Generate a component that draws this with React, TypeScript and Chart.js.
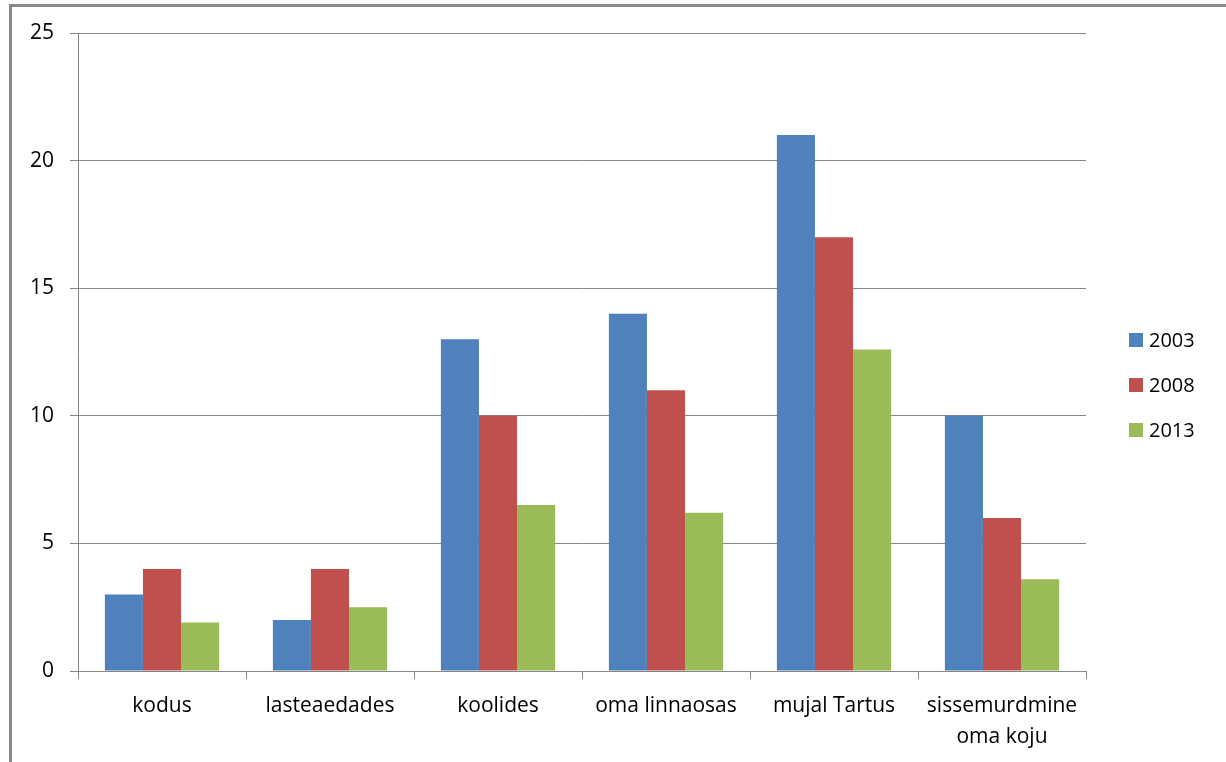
import React, { useEffect, useRef } from "react";
import { Chart, registerables } from "chart.js";

Chart.register(...registerables);

const categories: (string | string[])[] = [
  "kodus",
  "lasteaedades",
  "koolides",
  "oma linnaosas",
  "mujal Tartus",
  ["sissemurdmine", "oma koju"],
];
const series2003 = [3, 2, 13, 14, 21, 10];
const series2008 = [4, 4, 10, 11, 17, 6];
const series2013 = [1.9, 2.5, 6.5, 6.2, 12.6, 3.6];
const seriesLabels = ["2003", "2008", "2013"];
const seriesColors = ["#4F81BD", "#C0504D", "#9BBB59"];
const yMin = 0;
const yMax = 25;
const yStep = 5;

const FONT = "'Open Sans', 'Liberation Sans', sans-serif";
const GRID = "#868686";

const legendPlugin = {
  id: "sideLegend",
  afterDraw(chart: any) {
    const ctx = chart.ctx;
    const area = chart.chartArea;
    const ds = chart.data.datasets;
    const spacing = 45;
    const x = area.right + 43;
    const startY = 340;
    ctx.save();
    ctx.font = `20px ${FONT}`;
    ctx.textBaseline = "middle";
    ctx.textAlign = "left";
    ds.forEach((d: any, i: number) => {
      const cy = startY + i * spacing;
      ctx.fillStyle = d.backgroundColor;
      ctx.fillRect(x, cy - 7, 14, 14);
      ctx.fillStyle = "#000";
      ctx.fillText(d.label, x + 20, cy + 1);
    });
    ctx.restore();
  },
};

export default function App() {
  const ref = useRef<HTMLCanvasElement | null>(null);
  useEffect(() => {
    if (!ref.current) return;
    const values = [series2003, series2008, series2013];
    const chart = new Chart(ref.current, {
      type: "bar",
      data: {
        labels: categories,
        datasets: values.map((v, i) => ({
          label: seriesLabels[i],
          data: v,
          backgroundColor: seriesColors[i],
          borderWidth: 0,
          barPercentage: 1,
          categoryPercentage: 0.68,
        })),
      },
      options: {
        animation: false,
        responsive: true,
        maintainAspectRatio: false,
        layout: { padding: { top: 33, right: 140, left: 0, bottom: 0 } },
        plugins: {
          legend: { display: false },
          tooltip: { enabled: false },
        },
        scales: {
          x: {
            grid: {
              display: true,
              drawOnChartArea: false,
              drawTicks: true,
              tickLength: 8,
              color: GRID,
              offset: true,
            },
            border: { display: true, color: GRID, width: 1 },
            ticks: {
              color: "#000",
              font: { family: FONT, size: 21, lineHeight: 1.45 },
              padding: 12,
              maxRotation: 0,
              autoSkip: false,
            },
            afterFit(scale: any) {
              scale.height = 91;
            },
          },
          y: {
            min: yMin,
            max: yMax,
            grid: {
              color: GRID,
              tickLength: 8,
              drawTicks: true,
            },
            border: { display: true, color: GRID, width: 1 },
            ticks: {
              stepSize: yStep,
              color: "#000",
              font: { family: FONT, size: 21 },
              padding: 16,
            },
            afterFit(scale: any) {
              scale.width = 78;
            },
          },
        },
      },
      plugins: [legendPlugin],
    });
    return () => chart.destroy();
  }, []);

  return (
    <div style={{ position: "fixed", left: 0, top: 0, width: 1226, height: 762, background: "#fff" }}>
      <div
        style={{
          position: "absolute",
          left: 9,
          top: 4,
          right: 0,
          bottom: 0,
          borderLeft: "3px solid #888",
          borderTop: "3px solid #888",
        }}
      />
      <canvas ref={ref} style={{ position: "absolute", left: 0, top: 0 }} />
    </div>
  );
}
